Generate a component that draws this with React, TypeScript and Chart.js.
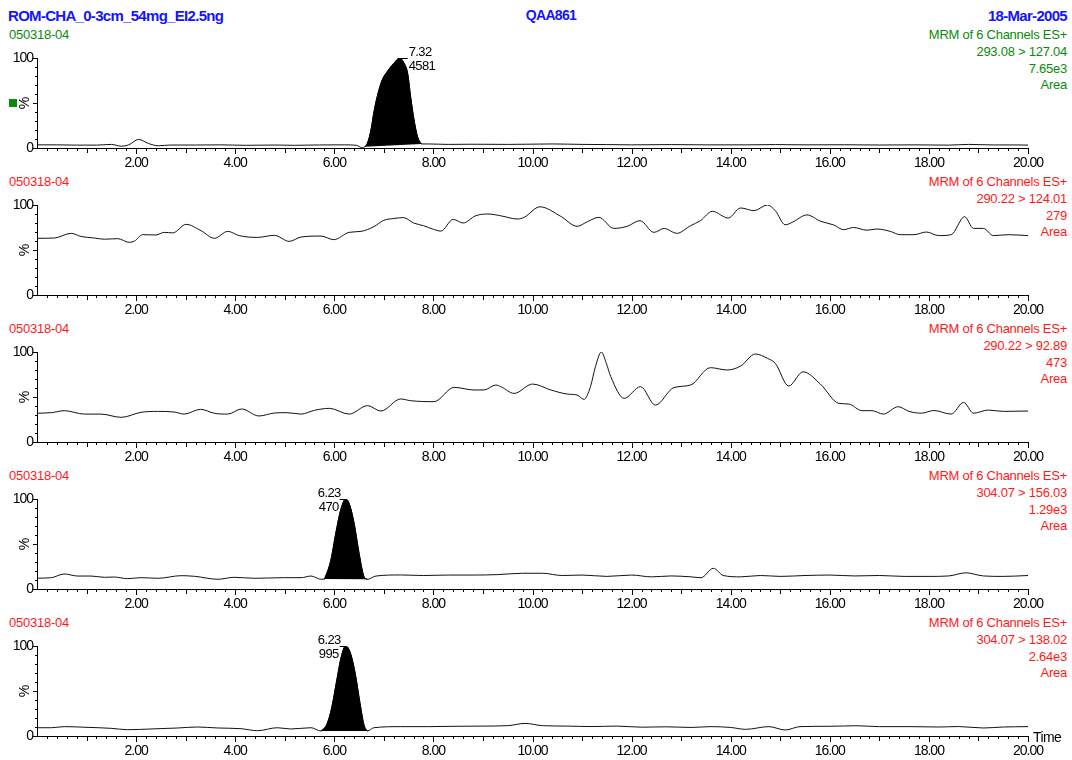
import React, { useEffect, useRef } from 'react';
import { Chart, registerables } from 'chart.js';

Chart.register(...registerables);

const FONT = '"Liberation Sans", Arial, Helvetica, sans-serif';

// ---------- header / labels ----------
const titleLeft = 'ROM-CHA_0-3cm_54mg_EI2.5ng';
const titleCenter = 'QAA861';
const titleRight = '18-Mar-2005';
const sampleLabel = '050318-04';
const scanLabel = 'MRM of 6 Channels ES+';
const channelLabels = ['293.08 > 127.04', '290.22 > 124.01', '290.22 > 92.89', '304.07 > 156.03', '304.07 > 138.02'];
const intensityLabels = ['7.65e3', '279', '473', '1.29e3', '2.64e3'];
const modeLabel = 'Area';
const panelColors = ['#0a8a0a', '#ff1a1a', '#ff1a1a', '#ff1a1a', '#ff1a1a'];
const xAxisTitle = 'Time';

// ---------- peak annotations ----------
const peakRT = [7.32, null, null, 6.23, 6.23];
const peakArea = ['4581', '', '', '470', '995'];
const peakStart = [6.62, null, null, 5.8, 5.73];
const peakEnd = [7.76, null, null, 6.67, 6.67];
const peakSide = ['right', '', '', 'left', 'left'];

// ---------- traces (time in min, relative intensity %) ----------
const timeA = [0, 0.4, 0.8, 1.2, 1.5, 1.7, 1.85, 2.05, 2.25, 2.45, 2.7, 3.2, 3.7, 4.2, 4.8, 5.2, 5.7, 6.2, 6.45, 6.55, 6.62, 6.67, 6.74, 6.8, 6.87, 6.97, 7.07, 7.2, 7.32, 7.4, 7.48, 7.54, 7.61, 7.68, 7.76, 7.9, 8.3, 8.8, 9.5, 10.4, 11, 11.5, 12, 12.8, 13.5, 14.3, 14.9, 15.5, 16.3, 17, 17.7, 18.4, 18.8, 19.3, 19.8, 20];
const valueA = [3.5, 3.5, 3.2, 3.2, 4, 2, 3.5, 9.5, 5, 2.5, 3.3, 3.3, 3.5, 3, 3.3, 3, 3.4, 3.5, 3, 0.5, 1.5, 5.5, 20, 40, 58, 76, 85, 94, 100, 95, 83, 57, 31, 12.5, 4.5, 4.5, 4, 4.2, 4, 4.5, 4, 3.8, 3.5, 3.8, 3.5, 3.5, 3.8, 3.5, 3.6, 3.3, 3.5, 3.2, 4, 3.4, 3.4, 3.2];

const timeB = [0, 0.35, 0.69, 0.89, 1.16, 1.36, 1.63, 1.86, 1.97, 2.13, 2.4, 2.57, 2.74, 3.01, 3.31, 3.58, 3.85, 4.08, 4.45, 4.79, 5.09, 5.33, 5.73, 5.99, 6.3, 6.54, 6.8, 7.0, 7.2, 7.4, 7.6, 7.8, 8.0, 8.15, 8.4, 8.6, 8.85, 9.1, 9.36, 9.7, 9.83, 10.15, 10.57, 10.9, 11.11, 11.34, 11.64, 11.91, 12.17, 12.45, 12.66, 12.91, 13.19, 13.39, 13.63, 13.95, 14.2, 14.47, 14.74, 14.9, 15.1, 15.24, 15.54, 15.81, 16.08, 16.28, 16.48, 16.75, 16.95, 17.22, 17.42, 17.7, 17.95, 18.2, 18.45, 18.72, 18.9, 19.1, 19.3, 19.6, 20];
const valueB = [63, 63.3, 68.5, 65, 63.3, 62, 62.6, 58.5, 60, 67, 66.7, 69.6, 69, 78.5, 71.5, 63, 70.7, 66, 64, 66.3, 59.6, 64.4, 65.5, 61.5, 69.6, 70.7, 76, 83, 85, 86, 80, 77, 73, 71, 84, 80, 88, 90, 88, 84.4, 86.3, 98, 87.4, 76.3, 81.5, 86.3, 74, 76.3, 82.6, 69.6, 74, 68.5, 77, 82.6, 93, 85.5, 96.7, 93.7, 100, 93.7, 78, 80.7, 89, 82, 77.8, 72.6, 75, 72, 73.3, 70.7, 67, 67, 70, 66, 67, 87, 74, 74, 66, 67, 66];

const timeC = [0, 0.29, 0.55, 0.96, 1.29, 1.7, 2.1, 2.43, 2.77, 2.97, 3.3, 3.58, 3.85, 4.13, 4.48, 4.79, 5.05, 5.33, 5.6, 5.9, 6.3, 6.67, 6.94, 7.34, 7.54, 8.01, 8.42, 8.82, 9.02, 9.26, 9.36, 9.63, 10.0, 10.37, 10.7, 10.9, 11.04, 11.17, 11.27, 11.39, 11.49, 11.58, 11.85, 12.18, 12.48, 12.85, 13.19, 13.59, 13.93, 14.2, 14.5, 14.74, 14.9, 15.17, 15.46, 15.81, 16.18, 16.38, 16.65, 16.85, 17.08, 17.38, 17.6, 17.85, 18.1, 18.45, 18.7, 18.9, 19.2, 19.5, 20];
const valueC = [32, 32.6, 34.8, 31, 31, 27.4, 33, 34, 33.3, 31, 36.3, 31.9, 31, 36.7, 28.9, 32.2, 32.6, 31, 35.2, 37.4, 31, 40.4, 34.4, 47.8, 45.9, 44.8, 60.7, 57.8, 57.8, 63.3, 61.5, 54, 64.4, 57.8, 53.3, 52.2, 47.4, 61.5, 83.7, 100, 87.4, 72.6, 48.5, 61.5, 41, 60.4, 63.3, 82.6, 80, 84.4, 97.8, 93, 87.4, 62.2, 78, 64.4, 43, 42.2, 34.8, 34.8, 31, 39.2, 34, 32, 35, 31, 44, 32, 35.5, 34, 34.4];

const timeD = [0, 0.29, 0.55, 0.82, 1.09, 1.36, 1.56, 1.83, 2.1, 2.44, 2.91, 3.18, 3.65, 3.98, 4.39, 4.99, 5.33, 5.53, 5.73, 5.8, 5.93, 6.03, 6.13, 6.23, 6.3, 6.4, 6.5, 6.6, 6.67, 6.84, 7.34, 7.8, 8.3, 8.8, 9.3, 9.8, 10.2, 10.6, 11.0, 11.5, 12.0, 12.4, 12.8, 13.2, 13.4, 13.65, 13.85, 14.2, 14.6, 15.0, 15.5, 16.0, 16.5, 17.0, 17.5, 18.0, 18.4, 18.75, 19.1, 19.5, 20];
const valueD = [12, 12.6, 16.7, 14.4, 14.4, 13, 13.3, 11.5, 12.6, 11.9, 14.8, 14.1, 10.8, 13, 11.9, 12.6, 12.6, 14.4, 10.8, 11, 32, 62, 88, 100, 95, 73, 39.7, 13.7, 10.8, 14.4, 15.6, 15, 15.5, 15.5, 16, 17.5, 17.5, 15, 15.5, 14, 15.5, 13.5, 14.5, 13.5, 12.5, 23, 15, 13.5, 15, 14, 15, 15.5, 14.5, 15, 14, 14, 14.5, 18, 14.5, 14, 15];

const timeE = [0, 0.29, 0.55, 1.03, 1.5, 1.83, 2.3, 2.84, 3.24, 3.65, 4.12, 4.45, 4.85, 5.12, 5.53, 5.73, 5.85, 5.95, 6.05, 6.14, 6.23, 6.32, 6.42, 6.52, 6.6, 6.67, 6.8, 7.34, 7.9, 8.5, 9.0, 9.5, 9.85, 10.2, 10.7, 11.2, 11.7, 12.2, 12.7, 13.2, 13.6, 14.0, 14.3, 14.77, 15.1, 15.4, 16.0, 16.55, 17.0, 17.6, 18.2, 18.6, 19.1, 19.5, 20];
const valueE = [9.2, 9.2, 10.4, 9.6, 8.5, 7, 7.8, 8.9, 10, 8.9, 8.1, 5.9, 9.2, 7.8, 9.2, 5.6, 13, 32, 62, 88, 100, 93, 70, 36, 12, 5.6, 9.2, 10.4, 10.4, 10.8, 11, 11.5, 14, 11.5, 11, 10.5, 11, 9.8, 10.2, 9.5, 10.4, 9.5, 7.4, 10.4, 6.7, 10.4, 10.8, 11.4, 10.4, 10.4, 10, 10.5, 8.9, 10, 10.4];

const panelTimes = [timeA, timeB, timeC, timeD, timeE];
const panelValues = [valueA, valueB, valueC, valueD, valueE];

// ---------- layout constants ----------
const PANEL_STEP = 147;
const TOP0 = 58; // y of the 100% line of the first panel
const PAD_TOP = 20;
const PLOT_H = 90;
const AXIS_H = 30;
const LEFT = 37;
const RIGHT_PAD = 44;

const decorPlugin = {
  id: 'decor',
  beforeDraw(chart: any) {
    (chart.ctx as any).letterSpacing = '-1px';
  },
  afterDraw(chart: any, _args: any, opts: any) {
    const { ctx, chartArea, scales } = chart;
    const x = scales.x;
    const y = scales.y;
    ctx.save();
    ctx.strokeStyle = '#000';
    ctx.lineWidth = 1;
    ctx.beginPath();
    for (let i = 1; i <= 100; i++) {
      const px = Math.round(x.getPixelForValue(i * 0.2)) + 0.5;
      const len = i % 10 === 0 ? 6 : i % 5 === 0 ? 5 : 3;
      ctx.moveTo(px, chartArea.bottom);
      ctx.lineTo(px, chartArea.bottom + len);
    }
    for (let j = 0; j <= 10; j++) {
      const py = Math.round(y.getPixelForValue(j * 10)) + 0.5;
      const len = j % 5 === 0 ? 4 : 2;
      ctx.moveTo(chartArea.left - len, py);
      ctx.lineTo(chartArea.left, py);
    }
    ctx.stroke();

    // rotated percent label
    ctx.save();
    (ctx as any).letterSpacing = '0px';
    ctx.translate(chartArea.left - 12, y.getPixelForValue(50));
    ctx.rotate(-Math.PI / 2);
    ctx.fillStyle = '#000';
    ctx.font = `14px ${FONT}`;
    ctx.textAlign = 'center';
    ctx.textBaseline = 'middle';
    ctx.fillText('%', 0, 0);
    ctx.restore();

    // peak annotation
    if (opts && opts.rt != null) {
      const ax = x.getPixelForValue(opts.rt);
      const ay = y.getPixelForValue(100);
      (ctx as any).letterSpacing = '-0.6px';
      ctx.font = `13px ${FONT}`;
      ctx.fillStyle = '#000';
      ctx.textBaseline = 'middle';
      ctx.beginPath();
      if (opts.side === 'right') {
        ctx.moveTo(ax, Math.round(ay) + 0.5);
        ctx.lineTo(ax + 8, Math.round(ay) + 0.5);
        ctx.stroke();
        ctx.textAlign = 'left';
        ctx.fillText(opts.rt.toFixed(2), ax + 9, ay - 6);
        ctx.fillText(opts.area, ax + 9, ay + 8);
      } else {
        ctx.moveTo(ax - 6, Math.round(ay) + 0.5);
        ctx.lineTo(ax, Math.round(ay) + 0.5);
        ctx.stroke();
        ctx.textAlign = 'right';
        ctx.fillText(opts.rt.toFixed(2), ax - 5, ay - 6);
        ctx.fillText(opts.area, ax - 7, ay + 8);
      }
    }
    ctx.restore();
  },
};

function Panel({ idx }: { idx: number }) {
  const ref = useRef<HTMLCanvasElement>(null);
  useEffect(() => {
    const times = panelTimes[idx];
    const vals = panelValues[idx];
    const trace = times.map((t, i) => ({ x: t, y: vals[i] }));
    const datasets: any[] = [];
    if (peakRT[idx] != null) {
      const s = peakStart[idx] as number;
      const e = peakEnd[idx] as number;
      datasets.push({
        data: trace.filter((p) => p.x >= s - 1e-9 && p.x <= e + 1e-9),
        fill: 'shape',
        backgroundColor: '#000',
        borderColor: '#000',
        borderWidth: 1,
        pointRadius: 0,
        cubicInterpolationMode: 'monotone',
      });
    }
    datasets.push({
      data: trace,
      fill: false,
      borderColor: '#111',
      borderWidth: 1,
      pointRadius: 0,
      cubicInterpolationMode: 'monotone',
    });
    const tickFont = { family: FONT, size: 14 };
    const chart = new Chart(ref.current as HTMLCanvasElement, {
      type: 'line',
      data: { datasets },
      options: {
        animation: false,
        responsive: false,
        devicePixelRatio: 1,
        events: [],
        layout: { padding: { top: PAD_TOP, right: RIGHT_PAD, left: 0, bottom: 0 } },
        plugins: {
          legend: { display: false },
          tooltip: { enabled: false },
          decor: { rt: peakRT[idx], area: peakArea[idx], side: peakSide[idx] },
        } as any,
        scales: {
          x: {
            type: 'linear',
            min: 0,
            max: 20,
            grid: { display: false, drawTicks: false },
            border: { display: true, color: '#000', width: 1 },
            ticks: {
              stepSize: 2,
              autoSkip: false,
              maxRotation: 0,
              minRotation: 0,
              padding: 7,
              color: '#000',
              font: tickFont,
              callback: (v: any) => (Number(v) === 0 ? '' : Number(v).toFixed(2)),
            },
            afterFit: (s: any) => {
              s.height = AXIS_H;
            },
          },
          y: {
            type: 'linear',
            min: 0,
            max: 100,
            grid: { display: false, drawTicks: false },
            border: { display: true, color: '#000', width: 1 },
            ticks: {
              stepSize: 50,
              padding: 4,
              color: '#000',
              font: tickFont,
              callback: (v: any) => (Number(v) === 50 ? '' : String(v)),
            },
            afterFit: (s: any) => {
              s.width = LEFT;
            },
          },
        },
      } as any,
      plugins: [decorPlugin as any],
    });
    return () => chart.destroy();
  }, [idx]);
  return (
    <canvas
      ref={ref}
      width={1072}
      height={PAD_TOP + PLOT_H + AXIS_H}
      style={{ position: 'absolute', left: 0, top: TOP0 - PAD_TOP + idx * PANEL_STEP, width: 1072, height: PAD_TOP + PLOT_H + AXIS_H }}
    />
  );
}

function Txt(props: { x: number; y: number; align?: 'left' | 'right' | 'center'; color: string; size?: number; bold?: boolean; ls?: number; children: React.ReactNode }) {
  const { x, y, align = 'left', color, size = 13, bold = false, ls = -0.25, children } = props;
  const lh = size + 4;
  const style: React.CSSProperties = {
    position: 'absolute',
    top: y - lh / 2,
    lineHeight: `${lh}px`,
    fontSize: size,
    fontWeight: bold ? 700 : 400,
    color,
    letterSpacing: `${ls}px`,
    whiteSpace: 'nowrap',
  };
  if (align === 'left') style.left = x;
  else if (align === 'right') style.right = 1072 - x;
  else {
    style.left = x - 150;
    style.width = 300;
    style.textAlign = 'center';
  }
  return <div style={style}>{children}</div>;
}

export default function App() {
  const blue = '#1414ff';
  return (
    <div style={{ position: 'absolute', left: 0, top: 0, width: 1072, height: 760, background: '#fff', fontFamily: FONT, overflow: 'hidden' }}>
      <Txt x={8} y={15} color={blue} size={15} bold ls={-0.7}>{titleLeft}</Txt>
      <Txt x={551} y={15} align="center" color={blue} size={14} bold ls={-0.7}>{titleCenter}</Txt>
      <Txt x={1067} y={15} align="right" color={blue} size={15} bold ls={-0.7}>{titleRight}</Txt>
      {[0, 1, 2, 3, 4].map((k) => {
        const base = 34 + k * PANEL_STEP;
        const c = panelColors[k];
        return (
          <React.Fragment key={k}>
            <Txt x={9} y={base} color={c}>{sampleLabel}</Txt>
            <Txt x={1067} y={base} align="right" color={c}>{scanLabel}</Txt>
            <Txt x={1067} y={base + 17} align="right" color={c}>{channelLabels[k]}</Txt>
            <Txt x={1067} y={base + 34} align="right" color={c}>{intensityLabels[k]}</Txt>
            <Txt x={1067} y={base + 50} align="right" color={c}>{modeLabel}</Txt>
          </React.Fragment>
        );
      })}
      <div style={{ position: 'absolute', left: 9, top: 99, width: 8, height: 8, background: '#0a8a0a' }} />
      {[0, 1, 2, 3, 4].map((k) => (
        <Panel key={k} idx={k} />
      ))}
      <Txt x={1033} y={737} color="#000" size={14} ls={-0.6}>{xAxisTitle}</Txt>
    </div>
  );
}
